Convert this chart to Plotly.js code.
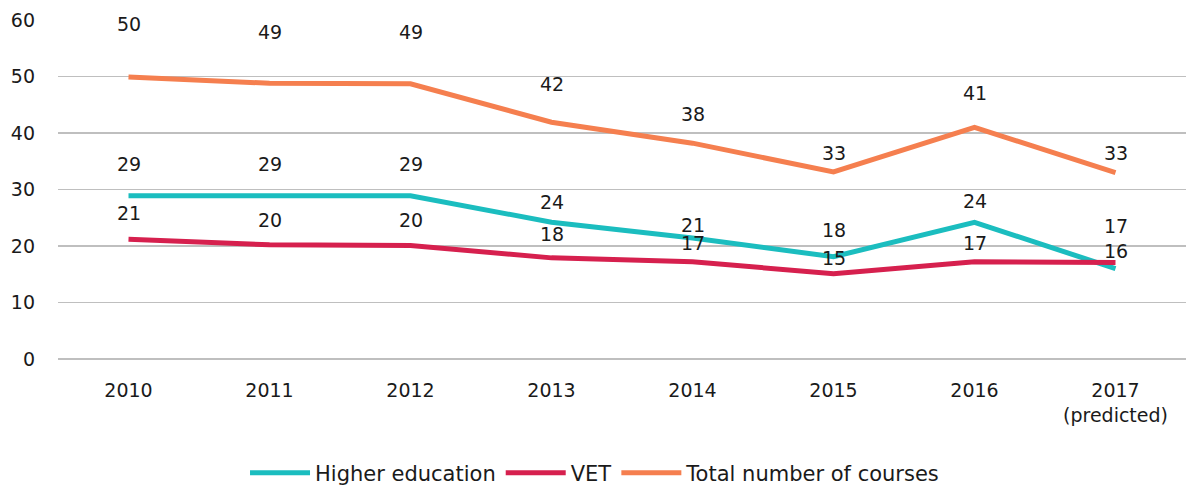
<!DOCTYPE html>
<html>
<head>
<meta charset="utf-8">
<script src="https://cdn.plot.ly/plotly-3.0.1.min.js"></script>
<style>html,body{margin:0;padding:0;background:#fff;}#chart{width:1186px;height:488px;}</style>
</head>
<body>
<div id="chart"></div>
<script>
const categories = ["2010","2011","2012","2013","2014","2015","2016","2017<br>(predicted)"];
const higherEducation = [28.9, 28.9, 28.9, 24.2, 21.4, 18.1, 24.2, 16.0];
const vet = [21.2, 20.2, 20.1, 17.9, 17.2, 15.1, 17.2, 17.1];
const totalCourses = [49.9, 48.8, 48.7, 41.9, 38.2, 33.1, 41.0, 33.0];

// label lift above each point, in pixels (style)
const liftHE = [32, 32, 32, 20, 13, 27, 21, 18];
const liftVET = [26, 25, 25, 24, 19, 16, 19, 36];
const liftTotal = [53, 51, 52, 38, 29, 19, 34, 20];

const FONT = "'DejaVu Sans', sans-serif";
const TXT = "#1a1a1a";
const colors = {he: "#1BBDBF", vet: "#D6204E", total: "#F57F4F"};

function series(name, y, color) {
  return {type: "scatter", mode: "lines", name: name, x: categories, y: y,
    line: {color: color, width: 5}, hoverinfo: "skip"};
}
const data = [
  series("Higher education", higherEducation, colors.he),
  series("VET", vet, colors.vet),
  series("Total number of courses", totalCourses, colors.total)
];

const annotations = [];
function addLabels(y, lift) {
  y.forEach((v, i) => annotations.push({
    x: i, y: v, xref: "x", yref: "y", text: String(Math.round(v)),
    showarrow: false, yshift: lift[i], xanchor: "center", yanchor: "middle",
    font: {family: FONT, size: 19, color: TXT}
  }));
}
addLabels(totalCourses, liftTotal);
addLabels(higherEducation, liftHE);
addLabels(vet, liftVET);

const layout = {
  width: 1186, height: 488,
  margin: {l: 58, r: 0, t: 20, b: 129, autoexpand: false},
  paper_bgcolor: "#fff", plot_bgcolor: "#fff",
  font: {family: FONT, size: 19, color: TXT},
  showlegend: true,
  legend: {orientation: "h", xref: "container", yref: "container",
    x: 0.5017, xanchor: "center", y: 0.0307, yanchor: "middle",
    font: {family: FONT, size: 21, color: TXT}, itemwidth: 60, traceorder: "normal"},
  xaxis: {type: "category", range: [-0.5, 7.5], showgrid: false, zeroline: false,
    showline: false, ticks: "", ticklabelstandoff: 18, fixedrange: true},
  yaxis: {range: [0, 60], dtick: 10, tick0: 0, showgrid: true, gridcolor: "#BFBFBF",
    gridwidth: 1.5, zeroline: true, zerolinecolor: "#BFBFBF", zerolinewidth: 1.5,
    showline: false, ticks: "", ticklabelstandoff: 22, fixedrange: true},
  annotations: annotations
};

Plotly.newPlot("chart", data, layout, {displayModeBar: false, staticPlot: true});
</script>
</body>
</html>
